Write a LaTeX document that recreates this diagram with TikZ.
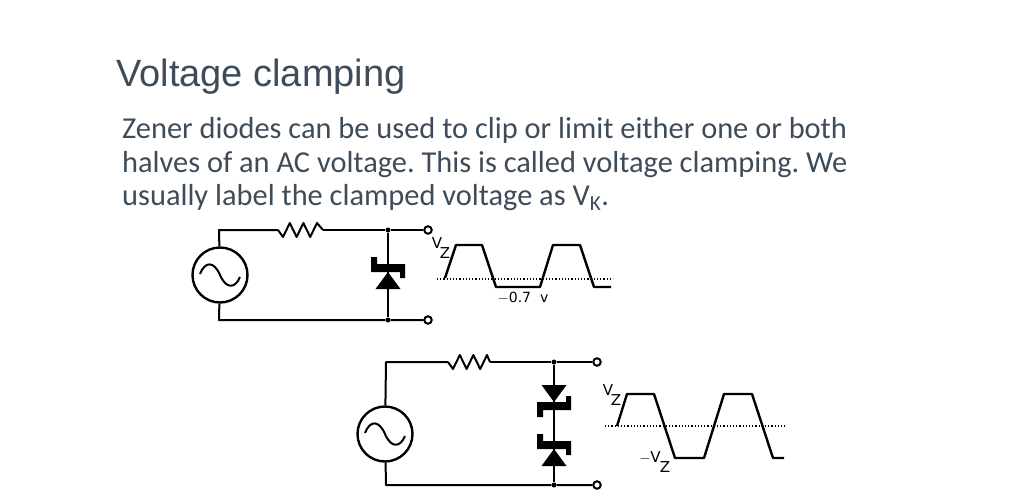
\documentclass[tikz,border=0pt]{standalone}
\usepackage{fontspec}
\setmainfont{Liberation Sans}
\newfontfamily\bodyfont{Carlito}
\newfontfamily\labelfont{DejaVu Sans}
\usetikzlibrary{calc}
\definecolor{SlideText}{HTML}{3E4C59}
\newcommand{\bodybase}{139}
\newcommand{\bodystep}{33}
\newcommand{\srcsize}{55pt}
\newcommand{\wavelabel}{\labelfont\fontsize{15}{15}\selectfont}
% sine inside the source
\newcommand{\sinewave}[1]{
  \draw[wire] ($(#1)+(-20,-1)$) .. controls ($(#1)+(-15,-14)$) and ($(#1)+(-6,-14)$)
    .. (#1) .. controls ($(#1)+(6,14)$) and ($(#1)+(15,14)$) .. ($(#1)+(20,2)$);
}
% resistor between two coordinates
\newcommand{\resistor}[2]{
  \draw[wire] (#1) -- ++(5,7) -- ++(6.8,-14) -- ++(6.8,14) -- ++(6.8,-14)
    -- ++(6.8,14) -- ++(6.8,-14) -- (#2);
}
% zener body, apex at the origin of the scope
\newcommand{\zenerbody}{
  \fill (-17,-15) -- (-11,-15) -- (-11,-8) -- (17,-8) -- (17,6) -- (12,6)
    -- (12,0) -- (-17,0) -- cycle;
  \fill (0,0) -- (12.5,17) -- (-12.5,17) -- cycle;
}
\tikzset{
  wire/.style={line width=2pt,line join=round},
  wave/.style={line width=2.4pt,line join=round},
  levelline/.style={line width=1.2pt,dash pattern=on 1.2pt off 2pt},
  source/.style={circle,draw,line width=2.4pt,minimum size=\srcsize,inner sep=0pt},
  terminal/.style={circle,draw,line width=2pt,fill=white,minimum size=7.5pt,inner sep=0pt},
  junction/.style={circle,fill,minimum size=5pt,inner sep=0pt},
  bodyline/.style={anchor=base west,inner sep=0pt,text=SlideText,
    font=\bodyfont\fontsize{30.4}{30.4}\selectfont},
  wavetext/.style={inner sep=0pt,font=\wavelabel}
}
\begin{document}
\frenchspacing
\begin{tikzpicture}[x=1pt,y=-1pt]
  \useasboundingbox (0,0) rectangle (1024,500);

  % heading and text
  \node[anchor=base west,inner sep=0pt,text=SlideText,
    font=\fontsize{38}{38}\selectfont] (title) at (116,87) {Voltage clamping};
  \node[bodyline] (lineone) at (122,\bodybase)
    {Zener diodes can be used to clip or limit either one or both};
  \node[bodyline] (linetwo) at (122,\bodybase+\bodystep)
    {halves of an AC voltage. This is called voltage clamping. We};
  \node[bodyline] (linethree) at (122,\bodybase+2*\bodystep)
    {usually label the clamped voltage as V\textsubscript{K}.};

  % first circuit
  \node[source] (srca) at (220,275) {};
  \sinewave{srca.center}
  \coordinate (cornera) at (219,230);
  \coordinate (cornerb) at (219,320);
  \coordinate (resain) at (278,230);
  \coordinate (resaout) at (323,230);
  \node[junction] (juna) at (388,230) {};
  \node[junction] (junb) at (388,320) {};
  \node[terminal] (terma) at (428,230) {};
  \node[terminal] (termb) at (428,320) {};
  \draw[wire] (srca) -- (cornera) -- (resain);
  \resistor{resain}{resaout}
  \draw[wire] (resaout) -- (juna) -- (terma);
  \draw[wire] (srca) -- (cornerb) -- (junb) -- (termb);
  \draw[wire] (juna) -- (junb);
  \begin{scope}[shift={(388,272)}]
    \zenerbody
  \end{scope}

  % first waveform
  \draw[levelline] (437,279) -- (613,279);
  \draw[wave] (445,278) -- (456,245) -- (482,245) -- (496,287) -- (540,287)
    -- (553,245) -- (580,245) -- (594,287) -- (611,287);
  \node[wavetext] (vza) at (437,243) {V};
  \node[wavetext] (zza) at (445,253) {Z};
  \node[wavetext] (clampa) at (523,298) {\fontsize{14}{14}\selectfont $-$0.7\ \ v};

  % second circuit
  \node[source] (srcb) at (385,434) {};
  \sinewave{srcb.center}
  \coordinate (cornerc) at (386,362);
  \coordinate (cornerd) at (386,485);
  \coordinate (resbin) at (448,362);
  \coordinate (resbout) at (490,362);
  \node[junction] (junc) at (554,362) {};
  \node[junction] (jund) at (554,485) {};
  \node[terminal] (termc) at (597,362) {};
  \node[terminal] (termd) at (597,485) {};
  \draw[wire] (srcb) -- (cornerc) -- (resbin);
  \resistor{resbin}{resbout}
  \draw[wire] (resbout) -- (junc) -- (termc);
  \draw[wire] (srcb) -- (cornerd) -- (jund) -- (termd);
  \draw[wire] (junc) -- (jund);
  \begin{scope}[shift={(554,402)},yscale=-1]
    \zenerbody
  \end{scope}
  \begin{scope}[shift={(554,449)}]
    \zenerbody
  \end{scope}

  % second waveform
  \draw[levelline] (605,426) -- (785,426);
  \draw[wave] (617,426) -- (627,394) -- (654,394) -- (675,458) -- (704,458)
    -- (724,394) -- (752,394) -- (773,458) -- (784,458);
  \node[wavetext] (vzb) at (608,390) {V};
  \node[wavetext] (zzb) at (616,400) {Z};
  \node[wavetext] (vzc) at (650,458) {$-$V};
  \node[wavetext] (zzc) at (665,467) {Z};
\end{tikzpicture}
\end{document}
